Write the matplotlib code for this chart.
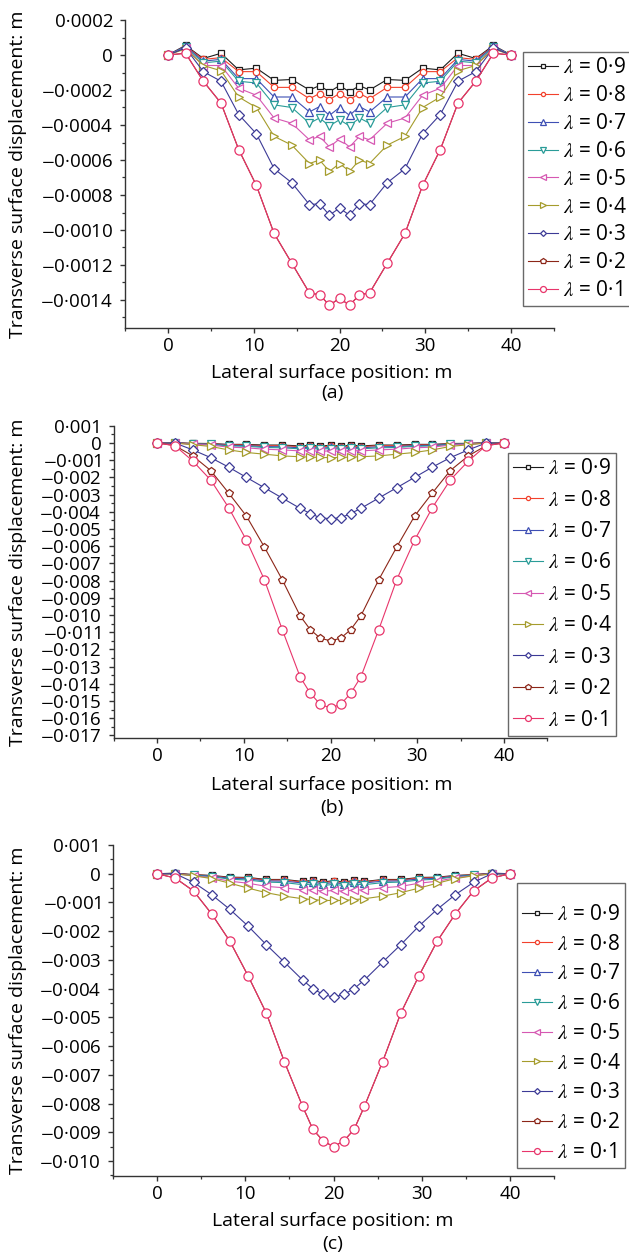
import numpy as np
import matplotlib.pyplot as plt
from matplotlib.ticker import MultipleLocator, FuncFormatter

plt.rcParams['font.family'] = ['Open Sans', 'DejaVu Sans']
plt.rcParams['mathtext.fontset'] = 'stix'

# lateral position of surface nodes (m), finer mesh above the tunnel
x = [0, 2.06, 4.13, 6.19, 8.25, 10.31, 12.38, 14.44, 16.5, 17.67, 18.83, 20,
     21.17, 22.33, 23.5, 25.56, 27.63, 29.69, 31.75, 33.81, 35.88, 37.94, 40]

lam_labels = ['0·9', '0·8', '0·7', '0·6', '0·5', '0·4', '0·3', '0·2', '0·1']
colours = ['#1c1c1c', '#f2412c', '#3e4fb4', '#2a9c98', '#d658b2',
           '#a59c2c', '#3c3a96', '#8c2618', '#e8356b']
markers = ['s', 'o', '^', 'v', '<', '>', 'D', 'p', 'o']
msize = [4.8, 4.6, 6.2, 6.2, 6.2, 6.2, 4.6, 6.0, 6.6]

# ---- (a) values in 1e-4 m
a09 = [0, 0.55, -0.2, 0.1, -0.85, -0.75, -1.45, -1.4, -2.0, -1.75, -2.1, -1.75,
       -2.1, -1.75, -2.0, -1.4, -1.45, -0.75, -0.85, 0.1, -0.2, 0.55, 0]
a08 = [0, 0.5, -0.25, -0.15, -0.95, -0.95, -1.85, -1.85, -2.5, -2.2, -2.55, -2.2,
       -2.55, -2.2, -2.5, -1.85, -1.85, -0.95, -0.95, -0.15, -0.25, 0.5, 0]
a07 = [0, 0.5, -0.35, -0.25, -1.35, -1.35, -2.4, -2.4, -3.25, -2.95, -3.45, -3.0,
       -3.45, -2.95, -3.25, -2.4, -2.4, -1.35, -1.35, -0.25, -0.35, 0.5, 0]
a06 = [0, 0.45, -0.45, -0.35, -1.5, -1.6, -2.85, -3.0, -3.9, -3.6, -4.05, -3.7,
       -4.05, -3.6, -3.9, -3.0, -2.85, -1.6, -1.5, -0.35, -0.45, 0.45, 0]
a05 = [0, 0.4, -0.6, -0.6, -1.9, -2.3, -3.6, -3.9, -4.85, -4.65, -5.25, -4.8,
       -5.25, -4.65, -4.85, -3.9, -3.6, -2.3, -1.9, -0.6, -0.6, 0.4, 0]
a04 = [0, 0.35, -0.6, -0.9, -2.4, -3.0, -4.65, -5.15, -6.2, -6.0, -6.65, -6.2,
       -6.65, -6.0, -6.2, -5.15, -4.65, -3.0, -2.4, -0.9, -0.6, 0.35, 0]
a03 = [0, 0.4, -0.95, -1.5, -3.4, -4.5, -6.5, -7.3, -8.55, -8.5, -9.15, -8.75,
       -9.15, -8.5, -8.55, -7.3, -6.5, -4.5, -3.4, -1.5, -0.95, 0.4, 0]
a02 = [0, 0.1, -1.5, -2.75, -5.4, -7.45, -10.2, -11.9, -13.6, -13.7, -14.3, -13.9,
       -14.3, -13.7, -13.6, -11.9, -10.2, -7.45, -5.4, -2.75, -1.5, 0.1, 0]
a01 = [0, 0.1, -1.5, -2.75, -5.4, -7.45, -10.2, -11.9, -13.6, -13.7, -14.3, -13.9,
       -14.3, -13.7, -13.6, -11.9, -10.2, -7.45, -5.4, -2.75, -1.5, 0.1, 0]

# ---- (b) values in 1e-3 m
b09 = [0, 0.02, -0.02, -0.03, -0.08, -0.08, -0.12, -0.12, -0.17, -0.13, -0.18, -0.13,
       -0.18, -0.13, -0.17, -0.12, -0.12, -0.08, -0.08, -0.03, -0.02, 0.02, 0]
b08 = [0, 0.01, -0.04, -0.05, -0.11, -0.11, -0.16, -0.16, -0.21, -0.18, -0.22, -0.18,
       -0.22, -0.18, -0.21, -0.16, -0.16, -0.11, -0.11, -0.05, -0.04, 0.01, 0]
b07 = [0, 0.01, -0.05, -0.07, -0.14, -0.15, -0.21, -0.22, -0.28, -0.25, -0.3, -0.26,
       -0.3, -0.25, -0.28, -0.22, -0.21, -0.15, -0.14, -0.07, -0.05, 0.01, 0]
b06 = [0, 0, -0.06, -0.08, -0.17, -0.19, -0.26, -0.28, -0.34, -0.31, -0.36, -0.32,
       -0.36, -0.31, -0.34, -0.28, -0.26, -0.19, -0.17, -0.08, -0.06, 0, 0]
b05 = [0, 0, -0.08, -0.12, -0.24, -0.28, -0.36, -0.4, -0.46, -0.44, -0.49, -0.45,
       -0.49, -0.44, -0.46, -0.4, -0.36, -0.28, -0.24, -0.12, -0.08, 0, 0]
b04 = [0, 0, -0.1, -0.2, -0.4, -0.55, -0.65, -0.75, -0.8, -0.82, -0.84, -0.85,
       -0.84, -0.82, -0.8, -0.75, -0.65, -0.55, -0.4, -0.2, -0.1, 0, 0]
b03 = [0, 0, -0.4, -0.85, -1.4, -2.0, -2.6, -3.2, -3.8, -4.1, -4.35, -4.4,
       -4.35, -4.1, -3.8, -3.2, -2.6, -2.0, -1.4, -0.85, -0.4, 0, 0]
b02 = [0, -0.15, -0.75, -1.6, -2.9, -4.25, -6.05, -7.95, -10.05, -10.85, -11.35, -11.5,
       -11.35, -10.85, -10.05, -7.95, -6.05, -4.25, -2.9, -1.6, -0.75, -0.15, 0]
b01 = [0, -0.15, -1.05, -2.15, -3.75, -5.65, -7.95, -10.85, -13.6, -14.55, -15.2, -15.4,
       -15.2, -14.55, -13.6, -10.85, -7.95, -5.65, -3.75, -2.15, -1.05, -0.15, 0]

# ---- (c) values in 1e-3 m
c09 = [0, 0.02, -0.03, -0.06, -0.12, -0.13, -0.2, -0.2, -0.27, -0.23, -0.29, -0.24,
       -0.29, -0.23, -0.27, -0.2, -0.2, -0.13, -0.12, -0.06, -0.03, 0.02, 0]
c08 = [0, 0.01, -0.04, -0.07, -0.14, -0.15, -0.22, -0.22, -0.29, -0.26, -0.31, -0.27,
       -0.31, -0.26, -0.29, -0.22, -0.22, -0.15, -0.14, -0.07, -0.04, 0.01, 0]
c07 = [0, 0.01, -0.05, -0.08, -0.16, -0.18, -0.25, -0.26, -0.32, -0.3, -0.35, -0.31,
       -0.35, -0.3, -0.32, -0.26, -0.25, -0.18, -0.16, -0.08, -0.05, 0.01, 0]
c06 = [0, 0, -0.06, -0.1, -0.19, -0.22, -0.29, -0.31, -0.38, -0.36, -0.41, -0.37,
       -0.41, -0.36, -0.38, -0.31, -0.29, -0.22, -0.19, -0.1, -0.06, 0, 0]
c05 = [0, 0, -0.07, -0.14, -0.26, -0.33, -0.44, -0.49, -0.57, -0.56, -0.61, -0.58,
       -0.61, -0.56, -0.57, -0.49, -0.44, -0.33, -0.26, -0.14, -0.07, 0, 0]
c04 = [0, -0.01, -0.07, -0.17, -0.33, -0.5, -0.66, -0.78, -0.87, -0.9, -0.93, -0.93,
       -0.93, -0.9, -0.87, -0.78, -0.66, -0.5, -0.33, -0.17, -0.07, -0.01, 0]
c03 = [0, 0, -0.3, -0.73, -1.24, -1.82, -2.47, -3.08, -3.7, -4.0, -4.2, -4.3,
       -4.2, -4.0, -3.7, -3.08, -2.47, -1.82, -1.24, -0.73, -0.3, 0, 0]
c02 = [0, -0.15, -0.6, -1.4, -2.35, -3.55, -4.85, -6.55, -8.1, -8.9, -9.3, -9.5,
       -9.3, -8.9, -8.1, -6.55, -4.85, -3.55, -2.35, -1.4, -0.6, -0.15, 0]
c01 = [0, -0.15, -0.6, -1.4, -2.35, -3.55, -4.85, -6.55, -8.1, -8.9, -9.3, -9.5,
       -9.3, -8.9, -8.1, -6.55, -4.85, -3.55, -2.35, -1.4, -0.6, -0.15, 0]

W, H = 629, 1254
fig = plt.figure(figsize=(W / 100, H / 100), dpi=100)


def px_axes(left, top, right, bottom):
    return fig.add_axes([left / W, 1 - bottom / H, (right - left) / W, (bottom - top) / H])


def fmt(ndec):
    def f(v, pos):
        if abs(v) < 1e-12:
            return '0'
        s = ('%.' + str(ndec) + 'f') % abs(v)
        s = s.replace('.', '·')
        return (r'$-$' + s) if v < 0 else s
    return FuncFormatter(f)


panels = [
    # series, unit, ylim, major step, decimals, axes box px, legend (left, top),
    # labelspacing, top gap title size, letter, xlabel centre (x, y), letter y
    ([a09, a08, a07, a06, a05, a04, a03, a02, a01], 1e-4, (-0.00156, 0.0002), 0.0002, 4,
     (125, 20, 554, 328), (523, 52), 0.33, None, '(a)', (332, 373), 393),
    ([b09, b08, b07, b06, b05, b04, b03, b02, b01], 1e-3, (-0.01715, 0.001), 0.001, 3,
     (113.6, 425.8, 547.4, 738), (508, 453), 0.5, None, '(b)', (332, 785), 808),
    ([c09, c08, c07, c06, c05, c04, c03, c02, c01], 1e-3, (-0.01052, 0.001), 0.001, 3,
     (113, 845, 554, 1176), (517, 883), 0.42, 6, '(c)', (333, 1221), 1244),
]

for series, unit, ylim, major, ndec, box, lg, lsp, tsize, letter, xl, let_y in panels:
    ax = px_axes(*box)
    for i, ys in enumerate(series):
        ax.plot(x, np.array(ys) * unit, color=colours[i], lw=0.8,
                marker=markers[i], ms=msize[i], mfc='white', mec=colours[i], mew=0.9,
                label=r'$\lambda$ = ' + lam_labels[i])
    ax.set_xlim(-5, 45)
    ax.set_ylim(*ylim)
    ax.xaxis.set_major_locator(MultipleLocator(10))
    ax.xaxis.set_minor_locator(MultipleLocator(5))
    ax.yaxis.set_major_locator(MultipleLocator(major))
    ax.yaxis.set_minor_locator(MultipleLocator(major / 2))
    ax.yaxis.set_major_formatter(fmt(ndec))
    ax.spines['top'].set_visible(False)
    ax.spines['right'].set_visible(False)
    for s in ['left', 'bottom']:
        ax.spines[s].set_linewidth(1.0)
        ax.spines[s].set_color('#333333')
    ax.tick_params(which='major', direction='out', length=3.5, width=1.0,
                   labelsize=13.5, color='#333333')
    ax.tick_params(which='minor', direction='out', length=2, width=0.9, color='#333333')
    ax.tick_params(axis='y', pad=5)
    ax.tick_params(axis='x', pad=3)
    ax.set_ylabel('Transverse surface displacement: m', fontsize=14)
    ax.yaxis.set_label_coords((27 - box[0]) / (box[2] - box[0]), 0.5)
    fig.text(xl[0] / W, 1 - xl[1] / H, 'Lateral surface position: m', fontsize=14,
             ha='center', va='center')
    fig.text(xl[0] / W, 1 - let_y / H, letter, fontsize=14, ha='center', va='center')
    leg = ax.legend(loc='upper left', bbox_to_anchor=(lg[0] / W, 1 - lg[1] / H),
                    bbox_transform=fig.transFigure, borderaxespad=0, fontsize=15,
                    frameon=True, fancybox=False, edgecolor='#444444',
                    labelspacing=lsp, borderpad=0.25, handlelength=1.45,
                    handletextpad=0.2, markerscale=0.65,
                    title=' ' if tsize else None, title_fontsize=tsize)
    leg.get_frame().set_linewidth(1.0)

fig.savefig('out.png', dpi=100)
